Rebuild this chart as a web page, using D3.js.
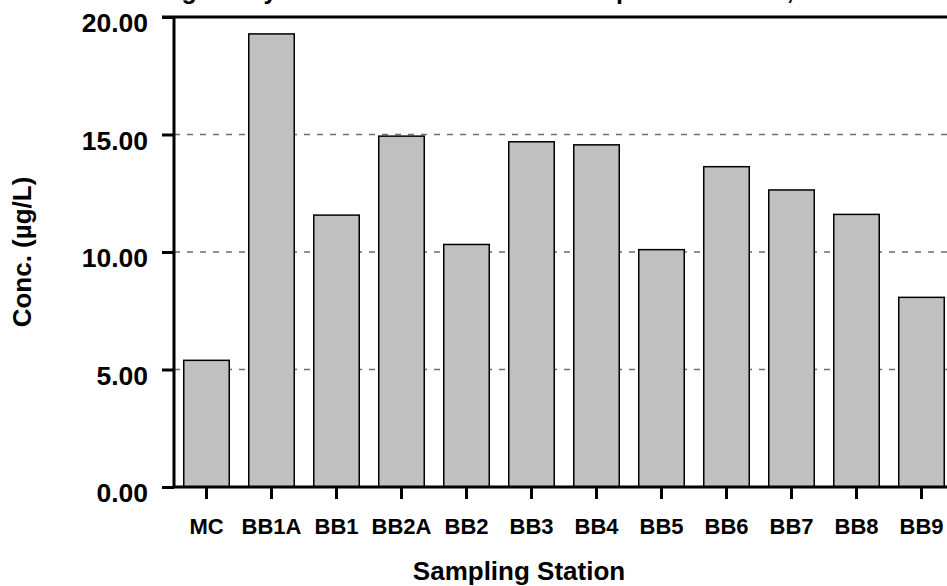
<!DOCTYPE html>
<html>
<head>
<meta charset="utf-8">
<script src="https://cdn.jsdelivr.net/npm/d3@7.9.0/dist/d3.min.js"></script>
<style>
  html, body { margin: 0; padding: 0; background: #fff; }
  svg { display: block; font-family: "Liberation Sans", Arial, sans-serif; font-weight: bold; }
</style>
</head>
<body>
<svg id="chart" width="947" height="586"></svg>
<script>
const stations = ['MC', 'BB1A', 'BB1', 'BB2A', 'BB2', 'BB3', 'BB4', 'BB5', 'BB6', 'BB7', 'BB8', 'BB9'];
const conc = [5.39, 19.28, 11.57, 14.93, 10.32, 14.69, 14.56, 10.10, 13.63, 12.64, 11.60, 8.07];
const yTicks = [0, 5, 10, 15, 20];
const gridTicks = [5, 10, 15];

const chartTitle = 'Average Daily Concentrations of Total Suspended Solids, 2006';

const svg = d3.select('#chart');

const plotLeft = 174, plotRight = 954, plotTop = 17, plotBottom = 487;

const x = d3.scaleBand()
  .domain(stations)
  .range([plotLeft, plotRight])
  .paddingInner(0.3)
  .paddingOuter(0.15);

const y = d3.scaleLinear()
  .domain([0, 20])
  .range([plotBottom, plotTop]);

// title, mostly cut off by the top edge (only descenders show)
svg.append('text')
  .attr('x', 113)
  .attr('y', -1)
  .attr('font-size', 25)
  .text(chartTitle);

// dashed gridlines
svg.append('g')
  .selectAll('line')
  .data(gridTicks)
  .join('line')
  .attr('x1', plotLeft)
  .attr('x2', 947)
  .attr('y1', d => y(d))
  .attr('y2', d => y(d))
  .attr('stroke', '#6e6e6e')
  .attr('stroke-width', 1.5)
  .attr('stroke-dasharray', '6,7');

// bars
svg.append('g')
  .selectAll('rect')
  .data(stations)
  .join('rect')
  .attr('x', d => x(d))
  .attr('y', (d, i) => y(conc[i]))
  .attr('width', x.bandwidth())
  .attr('height', (d, i) => y(0) - y(conc[i]))
  .attr('fill', '#c0c0c0')
  .attr('stroke', '#000')
  .attr('stroke-width', 1.5);

// top frame line
svg.append('line')
  .attr('x1', plotLeft - 12)
  .attr('x2', 947)
  .attr('y1', y(20))
  .attr('y2', y(20))
  .attr('stroke', '#000')
  .attr('stroke-width', 3);

// y axis
const yAxis = svg.append('g')
  .attr('transform', `translate(${plotLeft},0)`)
  .call(d3.axisLeft(y).tickValues(yTicks).tickSize(12).tickPadding(14).tickFormat(d3.format('.2f')));

yAxis.select('.domain').attr('stroke-width', 3).attr('d', `M0,${plotTop}V${plotBottom}`);
yAxis.selectAll('.tick line').attr('stroke-width', 3);
yAxis.selectAll('.tick text')
  .attr('font-size', 26.5)
  .attr('dy', '0.55em')
  .attr('font-family', '"Liberation Sans", Arial, sans-serif')
  .attr('font-weight', 'bold')
  .attr('fill', '#000');

// x axis
const xAxis = svg.append('g')
  .attr('transform', `translate(0,${plotBottom})`)
  .call(d3.axisBottom(x).tickSize(12).tickPadding(19));

xAxis.select('.domain').attr('stroke-width', 3).attr('d', `M${plotLeft},0H947`);
xAxis.selectAll('.tick line').attr('stroke-width', 3);
xAxis.selectAll('.tick text')
  .attr('font-size', 22)
  .attr('font-family', '"Liberation Sans", Arial, sans-serif')
  .attr('font-weight', 'bold')
  .attr('fill', '#000');

// axis titles
svg.append('text')
  .attr('transform', `translate(31,${(plotTop + plotBottom) / 2}) rotate(-90)`)
  .attr('text-anchor', 'middle')
  .attr('font-size', 26)
  .text('Conc. (µg/L)');

svg.append('text')
  .attr('x', 519)
  .attr('y', 580)
  .attr('text-anchor', 'middle')
  .attr('font-size', 26)
  .text('Sampling Station');
</script>
</body>
</html>
